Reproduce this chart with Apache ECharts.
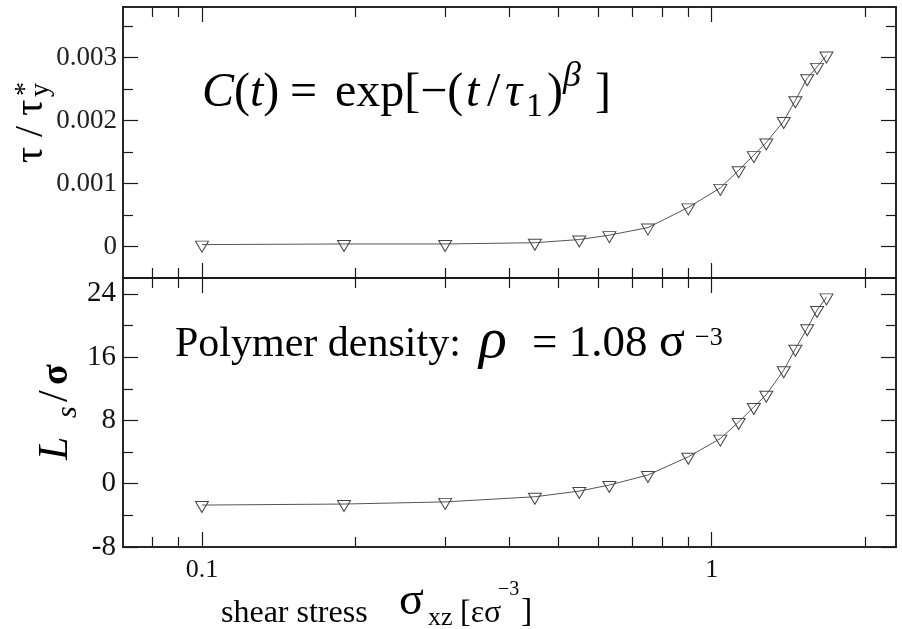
<!DOCTYPE html>
<html>
<head>
<meta charset="utf-8">
<script src="https://cdn.jsdelivr.net/npm/echarts@6/dist/echarts.min.js"></script>
<style>
  html, body { margin: 0; padding: 0; background: #ffffff; }
  #chart { width: 902px; height: 629px; }
</style>
</head>
<body>
<div id="chart"></div>
<script>
// Shear stress (reduced units), shared by both panels
const stress = [0.1, 0.19, 0.3, 0.45, 0.55, 0.63, 0.75, 0.9, 1.04, 1.13, 1.21, 1.28, 1.385, 1.46, 1.54, 1.61, 1.68];
// Relaxation time tau / tau*_y
const tauRatio = [0.00003, 0.00004, 0.00004, 0.00006, 0.00011, 0.00018, 0.0003, 0.00062, 0.00093, 0.00121, 0.00145, 0.00165, 0.00199, 0.00232, 0.00267, 0.00285, 0.00303];
// Slip length L_s / sigma
const slipLength = [-2.7, -2.57, -2.3, -1.65, -0.93, -0.17, 1.1, 3.4, 5.7, 7.8, 9.7, 11.25, 14.35, 17.05, 19.65, 21.95, 23.55];

// Axis ranges and tick values
const xRange = [0.07, 2.3];
const xMajorTicks = [0.1, 1];
const xMinorTicks = [0.08, 0.09, 0.2, 0.3, 0.4, 0.5, 0.6, 0.7, 0.8, 0.9, 2];
const tauRange = [-0.0005, 0.0038];
const tauMajorTicks = [0, 0.001, 0.002, 0.003];
const tauMinorTicks = [0.0005, 0.0015, 0.0025, 0.0035];
const lsRange = [-8, 26];
const lsMajorTicks = [-8, 0, 8, 16, 24];
const lsMinorTicks = [-4, 4, 12, 20];

const SERIF = '"Liberation Serif", "Times New Roman", serif';
const FRAME = '#1a1a1a';
const MAJOR_LEN = 15, MINOR_LEN = 10;

const chart = echarts.init(document.getElementById('chart'), null, { renderer: 'canvas' });

const lg = Math.log10;

// An axis used for the frame line plus a set of inward ticks (and optional labels)
function frameAxis(gridIndex, position, min, max, tickValues, tickLen, label) {
  return {
    type: 'value', gridIndex, position, min, max,
    axisLine: { show: true, onZero: false, lineStyle: { color: FRAME, width: 1.5 } },
    axisTick: { show: true, inside: true, length: tickLen, customValues: tickValues,
                lineStyle: { color: FRAME, width: 1.2 } },
    axisLabel: label ? Object.assign({ show: true }, label) : { show: false },
    splitLine: { show: false },
    minorTick: { show: false },
    silent: true
  };
}

// Hidden logarithmic axes that place the data in each panel
const xAxes = [0, 1].map(g => ({
  type: 'log', gridIndex: g, min: xRange[0], max: xRange[1], logBase: 10,
  axisLine: { show: false, onZero: false }, axisTick: { show: false },
  axisLabel: { show: false }, splitLine: { show: false }, minorTick: { show: false }
}));

const xLogRange = xRange.map(lg);
const xMajorLog = xMajorTicks.map(lg);
const xMinorLog = xMinorTicks.map(lg);
const xLabel = {
  customValues: xMajorLog,
  formatter: v => String(+Math.pow(10, v).toPrecision(3)),
  margin: 10, fontSize: 26, fontFamily: SERIF, color: '#111'
};
[0, 1].forEach(g => {
  ['top', 'bottom'].forEach(pos => {
    const withLabels = (g === 1 && pos === 'bottom') ? xLabel : null;
    xAxes.push(frameAxis(g, pos, xLogRange[0], xLogRange[1], xMajorLog, MAJOR_LEN, withLabels));
    xAxes.push(frameAxis(g, pos, xLogRange[0], xLogRange[1], xMinorLog, MINOR_LEN, null));
  });
});

const yFormatter = v => String(v);
const yAxes = [
  frameAxis(0, 'left', tauRange[0], tauRange[1], tauMajorTicks, MAJOR_LEN,
    { customValues: tauMajorTicks, formatter: yFormatter, margin: 6, fontSize: 27, fontFamily: SERIF, color: '#222' }),
  frameAxis(1, 'left', lsRange[0], lsRange[1], lsMajorTicks, MAJOR_LEN,
    { customValues: lsMajorTicks, formatter: yFormatter, margin: 7, fontSize: 29, fontFamily: SERIF, color: '#111' }),
  frameAxis(0, 'left', tauRange[0], tauRange[1], tauMinorTicks, MINOR_LEN, null),
  frameAxis(0, 'right', tauRange[0], tauRange[1], tauMajorTicks, MAJOR_LEN, null),
  frameAxis(0, 'right', tauRange[0], tauRange[1], tauMinorTicks, MINOR_LEN, null),
  frameAxis(1, 'left', lsRange[0], lsRange[1], lsMinorTicks, MINOR_LEN, null),
  frameAxis(1, 'right', lsRange[0], lsRange[1], lsMajorTicks, MAJOR_LEN, null),
  frameAxis(1, 'right', lsRange[0], lsRange[1], lsMinorTicks, MINOR_LEN, null)
];

function curve(g, values) {
  return {
    type: 'line', xAxisIndex: g, yAxisIndex: g,
    data: stress.map((s, i) => [s, values[i]]),
    symbol: 'triangle', symbolRotate: 180, symbolSize: [13, 11], symbolOffset: [0, 2],
    showAllSymbol: true,
    lineStyle: { color: '#555', width: 1 },
    itemStyle: { color: 'rgba(255,255,255,0)', borderColor: '#444', borderWidth: 1 },
    emphasis: { disabled: true }, silent: true, z: 5
  };
}

// Text placed by its left edge and alphabetic baseline
function txt(text, x, baseline, size, extra) {
  return {
    type: 'text', x, y: baseline - 0.34 * size, silent: true, z: 10,
    style: Object.assign({ text, fontSize: size, fontFamily: SERIF, fill: '#000',
                           align: 'left', verticalAlign: 'middle' }, extra || {})
  };
}
// Vertical text reading bottom-to-top, placed by its start point and baseline column
function vtxt(text, baselineX, startY, size, extra) {
  return {
    type: 'text', x: baselineX - 0.34 * size, y: startY, rotation: Math.PI / 2, silent: true, z: 10,
    style: Object.assign({ text, fontSize: size, fontFamily: SERIF, fill: '#000',
                           align: 'left', verticalAlign: 'middle' }, extra || {})
  };
}
const ITALIC = { fontStyle: 'italic' };

const graphics = [
  // C(t) = exp[-(t / tau_1)^beta]
  txt('{i|C}{r|(}{i|t}{r|)}', 202, 110, 48, { rich: {
    i: { fontStyle: 'italic', fontSize: 48, fontFamily: SERIF, verticalAlign: 'middle' },
    r: { fontSize: 48, fontFamily: SERIF, verticalAlign: 'middle' } } }),
  txt('=', 290, 110, 48),
  txt('exp[\u2212(', 335, 110, 48),
  txt('t', 466, 110, 48, ITALIC),
  txt('/', 487, 110, 48),
  txt('\u03c4', 505, 110, 48, ITALIC),
  txt('1', 526, 119, 34),
  txt(')', 547, 110, 48),
  txt('\u03b2', 563, 89, 36, ITALIC),
  txt(']', 595, 110, 48),

  // Polymer density: rho = 1.08 sigma^-3
  txt('Polymer density:', 175, 359, 42),
  txt('\u03c1', 479, 361, 58, ITALIC),
  txt('= 1.08', 532, 359, 45),
  txt('\u03c3', 659, 360, 48),
  txt('\u22123', 695, 347, 26),

  // x-axis title: shear stress sigma_xz [eps sigma^-3]
  txt('shear stress', 221, 624, 32),
  txt('\u03c3', 399, 618, 46),
  txt('xz', 428, 627, 26),
  txt('[\u03b5\u03c3', 460, 624, 32),
  txt('\u22123', 498, 597, 20),
  txt(']', 521, 624, 34),

  // y-axis title (top): tau / tau*_y
  vtxt('\u03c4 / \u03c4', 45, 163, 40),
  vtxt('*', 35, 96, 28),
  vtxt('y', 50, 97, 28),

  // y-axis title (bottom): L_s / sigma
  vtxt('L', 70, 460, 42, ITALIC),
  vtxt('s', 78, 418, 30, ITALIC),
  vtxt('/', 70, 402, 42),
  vtxt('\u03c3', 70, 385, 38, { fontWeight: 'bold' })
];

chart.setOption({
  animation: false,
  backgroundColor: '#ffffff',
  grid: [
    { left: 123, right: 6, top: 7, height: 271, containLabel: false },
    { left: 123, right: 6, top: 278, height: 269, containLabel: false }
  ],
  xAxis: xAxes,
  yAxis: yAxes,
  series: [curve(0, tauRatio), curve(1, slipLength)],
  graphic: graphics
});
</script>
</body>
</html>
